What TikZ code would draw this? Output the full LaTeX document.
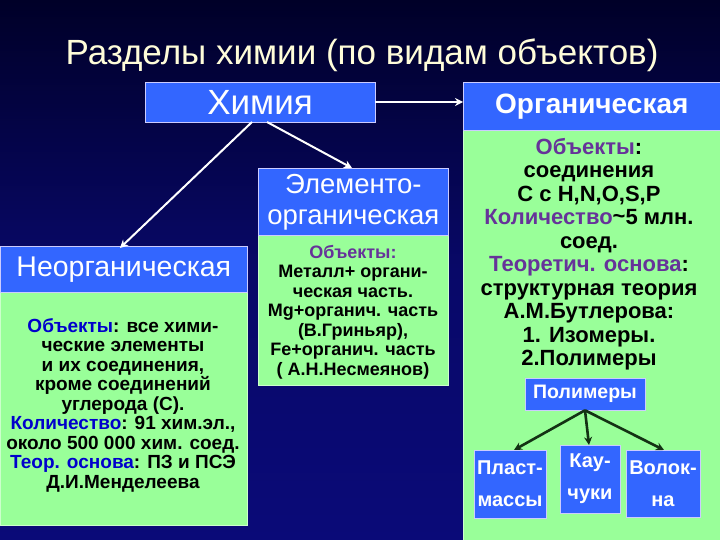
\documentclass[tikz,border=0pt]{standalone}
\usepackage{fontspec}
\setmainfont{Liberation Sans}
\usetikzlibrary{arrows.meta}
\begin{document}
\begin{tikzpicture}[x=1pt,y=-1pt,
  hdr/.style={draw=white!80!blue,line width=0.6pt,fill=myblue,text=white,inner sep=0,align=center},
  grn/.style={draw=white!80!green,fill=mygreen,inner sep=0,align=center,font=\bfseries},
  warr/.style={draw=white,line width=2pt,-{Stealth[length=8pt,width=8pt]}},
  garr/.style={draw=darkg,line width=2.6pt,-{Stealth[length=8pt,width=8pt]}}]
\definecolor{myblue}{RGB}{51,102,255}
\definecolor{mygreen}{RGB}{153,255,153}
\definecolor{purp}{RGB}{102,51,153}
\definecolor{bl}{RGB}{0,0,204}
\definecolor{darkg}{RGB}{20,50,20}
\definecolor{bgtop}{RGB}{0,0,40}
\definecolor{bgmid}{RGB}{10,10,120}
\useasboundingbox (0,0) rectangle (720,540);
\shade[top color=bgtop,bottom color=bgmid,middle color=bgmid!80!bgtop] (0,0) rectangle (720,540);
\node[text=white!85!yellow,font=\fontsize{35}{40}\selectfont] (title) at (362,55) {Разделы химии (по видам объектов)};
% Химия
\node[hdr,minimum width=230,minimum height=40,font=\fontsize{35}{40}\selectfont] (chem) at (260,102) {Химия};
% Органическая
\node[grn,minimum width=257,minimum height=410,anchor=north west] (orgb) at (463,130) {};
\node[hdr,minimum width=257,minimum height=48,anchor=north west,font=\bfseries\fontsize{28}{32}\selectfont] (org) at (463,82) {Органическая};
\node[font=\bfseries\fontsize{22}{23.5}\selectfont,align=center] (orgt) at (589,254) {\textcolor{purp}{Объекты}:\\соединения\\С с Н,N,O,S,P\\\textcolor{purp}{Количество}\raisebox{0.1ex}{\textasciitilde}5 млн.\\соед.\\\textcolor{purp}{Теоретич. основа}:\\структурная теория\\А.М.Бутлерова:\\1. Изомеры.\\2.Полимеры};
% Элементоорганическая
\node[grn,minimum width=190,minimum height=150,anchor=north west] (elb) at (258,235) {};
\node[hdr,minimum width=190,minimum height=67,anchor=north west,font=\fontsize{27.5}{31}\selectfont] (el) at (258,168) {Элементо-\\органическая};
\node[font=\bfseries\fontsize{18}{19.5}\selectfont,align=center] (elt) at (353,312) {\textcolor{purp}{Объекты:}\\Металл+ органи-\\ческая часть.\\Mg+органич. часть\\(В.Гриньяр),\\Fe+органич. часть\\( А.Н.Несмеянов)};
% Неорганическая
\node[grn,minimum width=247,minimum height=233,anchor=north west] (inb) at (0,292) {};
\node[hdr,minimum width=247,minimum height=46,anchor=north west,font=\fontsize{28.5}{32}\selectfont] (in) at (0,246) {Неорганическая};
\node[font=\bfseries\fontsize{19}{19.5}\selectfont,align=center] (intt) at (123,405) {\textcolor{bl}{Объекты}: все хими-\\ческие элементы\\и их соединения,\\кроме соединений\\углерода (С).\\\textcolor{bl}{Количество}: 91 хим.эл.,\\около 500 000 хим. соед.\\\textcolor{bl}{Теор. основа}: ПЗ и ПСЭ\\Д.И.Менделеева};
% polymers
\node[hdr,minimum width=120,minimum height=32,font=\bfseries\fontsize{19.5}{22}\selectfont] (pol) at (585,394) {Полимеры};
\node[hdr,minimum width=72,minimum height=68,font=\bfseries\fontsize{20}{32}\selectfont] (p1) at (510,484) {Пласт-\\массы};
\node[hdr,minimum width=60,minimum height=68,font=\bfseries\fontsize{20}{32}\selectfont] (p2) at (590,479) {Кау-\\чуки};
\node[hdr,minimum width=74,minimum height=67,font=\bfseries\fontsize{20}{32}\selectfont] (p3) at (663,484) {Волок-\\на};
% arrows
\draw[warr] (252,122) -- (120,248);
\draw[warr] (267,122) -- (352,168);
\draw[warr] (chem.east) -- (463,102);
\draw[garr] (pol.south) -- (514,450);
\draw[garr] (pol.south) -- (589,445);
\draw[garr] (pol.south) -- (664,450);
\end{tikzpicture}
\end{document}
